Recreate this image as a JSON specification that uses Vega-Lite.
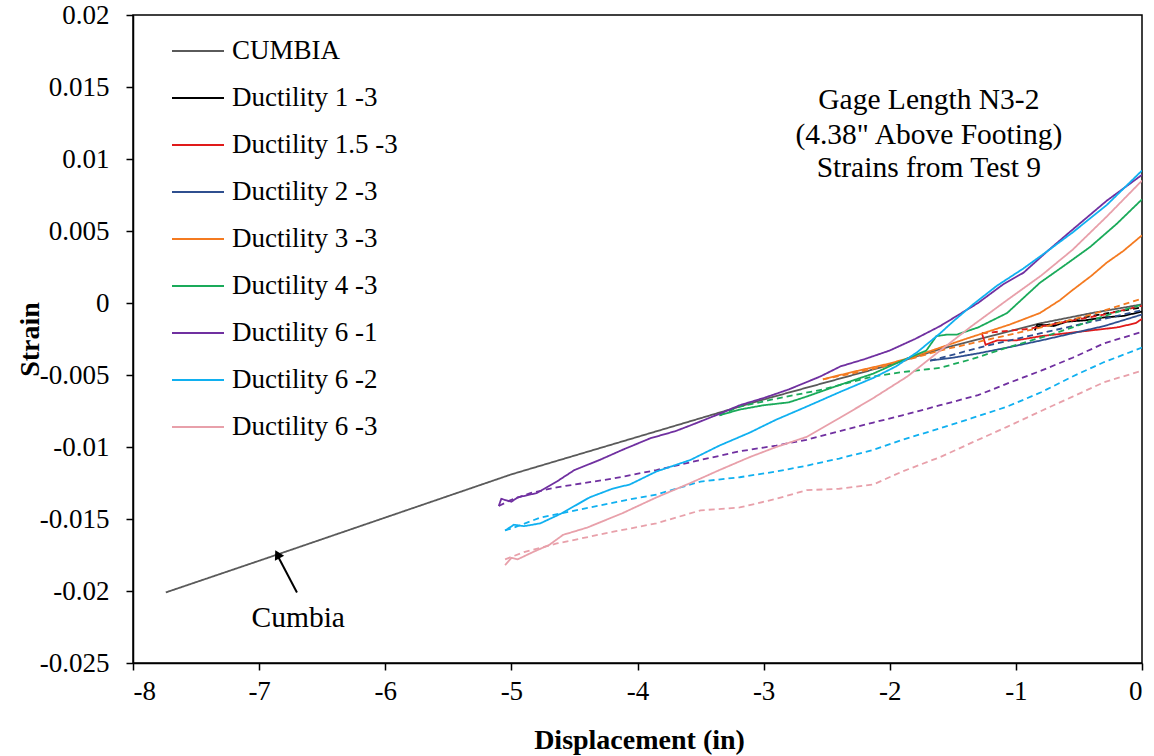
{
  "$schema": "https://vega.github.io/schema/vega-lite/v6.json",
  "width": 1009,
  "height": 648,
  "autosize": {"type": "none"},
  "padding": {"left": 133, "top": 15, "right": 12, "bottom": 93},
  "background": "white",
  "config": {
    "font": "Liberation Serif, serif",
    "view": {"stroke": "black", "strokeWidth": 1.5},
    "axis": {"grid": false, "domainColor": "black", "domainWidth": 1.5, "tickColor": "black", "tickWidth": 1.5, "tickSize": 7, "labelFont": "Liberation Serif, serif", "labelFontSize": 27, "labelColor": "black", "titleFont": "Liberation Serif, serif", "titleFontSize": 28, "titleFontWeight": "bold", "titleColor": "black"}
  },
  "datasets": {
    "series": [
      {"s":"CUMBIA","p":"load","x":-7.74,"y":-0.0201},{"s":"CUMBIA","p":"load","x":-7,"y":-0.0179},{"s":"CUMBIA","p":"load","x":-6.5,"y":-0.0164},{"s":"CUMBIA","p":"load","x":-6,"y":-0.0149},{"s":"CUMBIA","p":"load","x":-5.5,"y":-0.0134},{"s":"CUMBIA","p":"load","x":-5,"y":-0.0119},{"s":"CUMBIA","p":"load","x":-4.5,"y":-0.0106},{"s":"CUMBIA","p":"load","x":-4,"y":-0.0093},{"s":"CUMBIA","p":"load","x":-3.5,"y":-0.008},{"s":"CUMBIA","p":"load","x":-3,"y":-0.0067},{"s":"CUMBIA","p":"load","x":-2.5,"y":-0.0055},{"s":"CUMBIA","p":"load","x":-2,"y":-0.0043},{"s":"CUMBIA","p":"load","x":-1.6,"y":-0.0032},{"s":"CUMBIA","p":"load","x":-1.2,"y":-0.0023},{"s":"CUMBIA","p":"load","x":-0.8,"y":-0.0014},{"s":"CUMBIA","p":"load","x":-0.4,"y":-0.0007},{"s":"CUMBIA","p":"load","x":0,"y":-0.0001},

      {"s":"Ductility 1 -3","p":"load","x":-0.85,"y":-0.0019},{"s":"Ductility 1 -3","p":"load","x":-0.83,"y":-0.0015},{"s":"Ductility 1 -3","p":"load","x":-0.7,"y":-0.0016},{"s":"Ductility 1 -3","p":"load","x":-0.6,"y":-0.0013},{"s":"Ductility 1 -3","p":"load","x":-0.45,"y":-0.0012},{"s":"Ductility 1 -3","p":"load","x":-0.3,"y":-0.001},{"s":"Ductility 1 -3","p":"load","x":-0.15,"y":-0.0009},{"s":"Ductility 1 -3","p":"load","x":0,"y":-0.0006},
      {"s":"Ductility 1 -3","p":"unload","x":-0.85,"y":-0.0017},{"s":"Ductility 1 -3","p":"unload","x":-0.4,"y":-0.0009},{"s":"Ductility 1 -3","p":"unload","x":0,"y":-0.0003},

      {"s":"Ductility 1.5 -3","p":"load","x":-1.27,"y":-0.0021},{"s":"Ductility 1.5 -3","p":"load","x":-1.24,"y":-0.0029},{"s":"Ductility 1.5 -3","p":"load","x":-1.15,"y":-0.0026},{"s":"Ductility 1.5 -3","p":"load","x":-1.0,"y":-0.0026},{"s":"Ductility 1.5 -3","p":"load","x":-0.8,"y":-0.0023},{"s":"Ductility 1.5 -3","p":"load","x":-0.6,"y":-0.0021},{"s":"Ductility 1.5 -3","p":"load","x":-0.4,"y":-0.0019},{"s":"Ductility 1.5 -3","p":"load","x":-0.2,"y":-0.0017},{"s":"Ductility 1.5 -3","p":"load","x":-0.05,"y":-0.0014},{"s":"Ductility 1.5 -3","p":"load","x":0,"y":-0.0011},
      {"s":"Ductility 1.5 -3","p":"unload","x":-1.27,"y":-0.0021},{"s":"Ductility 1.5 -3","p":"unload","x":-0.9,"y":-0.0018},{"s":"Ductility 1.5 -3","p":"unload","x":-0.6,"y":-0.0013},{"s":"Ductility 1.5 -3","p":"unload","x":-0.3,"y":-0.0008},{"s":"Ductility 1.5 -3","p":"unload","x":0,"y":-0.0002},

      {"s":"Ductility 2 -3","p":"load","x":-1.68,"y":-0.004},{"s":"Ductility 2 -3","p":"load","x":-1.5,"y":-0.0038},{"s":"Ductility 2 -3","p":"load","x":-1.3,"y":-0.0035},{"s":"Ductility 2 -3","p":"load","x":-1.07,"y":-0.0031},{"s":"Ductility 2 -3","p":"load","x":-0.8,"y":-0.0026},{"s":"Ductility 2 -3","p":"load","x":-0.55,"y":-0.0021},{"s":"Ductility 2 -3","p":"load","x":-0.3,"y":-0.0016},{"s":"Ductility 2 -3","p":"load","x":0,"y":-0.0008},
      {"s":"Ductility 2 -3","p":"unload","x":-1.68,"y":-0.004},{"s":"Ductility 2 -3","p":"unload","x":-1.2,"y":-0.0029},{"s":"Ductility 2 -3","p":"unload","x":-0.8,"y":-0.0021},{"s":"Ductility 2 -3","p":"unload","x":-0.4,"y":-0.0013},{"s":"Ductility 2 -3","p":"unload","x":0,"y":-0.0005},

      {"s":"Ductility 3 -3","p":"load","x":-2.53,"y":-0.0053},{"s":"Ductility 3 -3","p":"load","x":-2.3,"y":-0.0048},{"s":"Ductility 3 -3","p":"load","x":-2.0,"y":-0.0042},{"s":"Ductility 3 -3","p":"load","x":-1.8,"y":-0.0037},{"s":"Ductility 3 -3","p":"load","x":-1.6,"y":-0.0031},{"s":"Ductility 3 -3","p":"load","x":-1.4,"y":-0.0025},{"s":"Ductility 3 -3","p":"load","x":-1.26,"y":-0.0021},{"s":"Ductility 3 -3","p":"load","x":-1.05,"y":-0.0015},{"s":"Ductility 3 -3","p":"load","x":-0.81,"y":-0.0007},{"s":"Ductility 3 -3","p":"load","x":-0.65,"y":0.0002},{"s":"Ductility 3 -3","p":"load","x":-0.55,"y":0.0009},{"s":"Ductility 3 -3","p":"load","x":-0.4,"y":0.0019},{"s":"Ductility 3 -3","p":"load","x":-0.28,"y":0.0028},{"s":"Ductility 3 -3","p":"load","x":-0.15,"y":0.0036},{"s":"Ductility 3 -3","p":"load","x":0,"y":0.0047},
      {"s":"Ductility 3 -3","p":"unload","x":-2.53,"y":-0.0053},{"s":"Ductility 3 -3","p":"unload","x":-2.3,"y":-0.0049},{"s":"Ductility 3 -3","p":"unload","x":-2.0,"y":-0.0043},{"s":"Ductility 3 -3","p":"unload","x":-1.6,"y":-0.0033},{"s":"Ductility 3 -3","p":"unload","x":-1.2,"y":-0.0025},{"s":"Ductility 3 -3","p":"unload","x":-0.8,"y":-0.0017},{"s":"Ductility 3 -3","p":"unload","x":-0.4,"y":-0.0008},{"s":"Ductility 3 -3","p":"unload","x":0,"y":0.0003},

      {"s":"Ductility 4 -3","p":"load","x":-3.35,"y":-0.0078},{"s":"Ductility 4 -3","p":"load","x":-3.19,"y":-0.0074},{"s":"Ductility 4 -3","p":"load","x":-3.0,"y":-0.0071},{"s":"Ductility 4 -3","p":"load","x":-2.8,"y":-0.0069},{"s":"Ductility 4 -3","p":"load","x":-2.66,"y":-0.0065},{"s":"Ductility 4 -3","p":"load","x":-2.4,"y":-0.0057},{"s":"Ductility 4 -3","p":"load","x":-2.13,"y":-0.0049},{"s":"Ductility 4 -3","p":"load","x":-1.9,"y":-0.004},{"s":"Ductility 4 -3","p":"load","x":-1.71,"y":-0.0033},{"s":"Ductility 4 -3","p":"load","x":-1.63,"y":-0.0023},{"s":"Ductility 4 -3","p":"load","x":-1.55,"y":-0.0022},{"s":"Ductility 4 -3","p":"load","x":-1.47,"y":-0.0022},{"s":"Ductility 4 -3","p":"load","x":-1.3,"y":-0.0017},{"s":"Ductility 4 -3","p":"load","x":-1.07,"y":-0.0007},{"s":"Ductility 4 -3","p":"load","x":-0.81,"y":0.0014},{"s":"Ductility 4 -3","p":"load","x":-0.6,"y":0.0027},{"s":"Ductility 4 -3","p":"load","x":-0.41,"y":0.0039},{"s":"Ductility 4 -3","p":"load","x":-0.2,"y":0.0055},{"s":"Ductility 4 -3","p":"load","x":0,"y":0.0072},
      {"s":"Ductility 4 -3","p":"unload","x":-3.35,"y":-0.0078},{"s":"Ductility 4 -3","p":"unload","x":-3.19,"y":-0.0072},{"s":"Ductility 4 -3","p":"unload","x":-2.93,"y":-0.0067},{"s":"Ductility 4 -3","p":"unload","x":-2.53,"y":-0.006},{"s":"Ductility 4 -3","p":"unload","x":-2.13,"y":-0.0051},{"s":"Ductility 4 -3","p":"unload","x":-1.9,"y":-0.0048},{"s":"Ductility 4 -3","p":"unload","x":-1.6,"y":-0.0045},{"s":"Ductility 4 -3","p":"unload","x":-1.35,"y":-0.0039},{"s":"Ductility 4 -3","p":"unload","x":-1.07,"y":-0.0031},{"s":"Ductility 4 -3","p":"unload","x":-0.8,"y":-0.0024},{"s":"Ductility 4 -3","p":"unload","x":-0.55,"y":-0.0017},{"s":"Ductility 4 -3","p":"unload","x":-0.3,"y":-0.0009},{"s":"Ductility 4 -3","p":"unload","x":0,"y":-0.0001},

      {"s":"Ductility 6 -1","p":"load","x":-5.1,"y":-0.0141},{"s":"Ductility 6 -1","p":"load","x":-5.08,"y":-0.0136},{"s":"Ductility 6 -1","p":"load","x":-5.0,"y":-0.0138},{"s":"Ductility 6 -1","p":"load","x":-4.95,"y":-0.0135},{"s":"Ductility 6 -1","p":"load","x":-4.8,"y":-0.0132},{"s":"Ductility 6 -1","p":"load","x":-4.64,"y":-0.0124},{"s":"Ductility 6 -1","p":"load","x":-4.5,"y":-0.0116},{"s":"Ductility 6 -1","p":"load","x":-4.3,"y":-0.0109},{"s":"Ductility 6 -1","p":"load","x":-4.12,"y":-0.0102},{"s":"Ductility 6 -1","p":"load","x":-3.9,"y":-0.0094},{"s":"Ductility 6 -1","p":"load","x":-3.7,"y":-0.0089},{"s":"Ductility 6 -1","p":"load","x":-3.58,"y":-0.0085},{"s":"Ductility 6 -1","p":"load","x":-3.35,"y":-0.0077},{"s":"Ductility 6 -1","p":"load","x":-3.19,"y":-0.0071},{"s":"Ductility 6 -1","p":"load","x":-3.0,"y":-0.0066},{"s":"Ductility 6 -1","p":"load","x":-2.8,"y":-0.006},{"s":"Ductility 6 -1","p":"load","x":-2.55,"y":-0.0051},{"s":"Ductility 6 -1","p":"load","x":-2.39,"y":-0.0044},{"s":"Ductility 6 -1","p":"load","x":-2.2,"y":-0.0039},{"s":"Ductility 6 -1","p":"load","x":-2.0,"y":-0.0033},{"s":"Ductility 6 -1","p":"load","x":-1.8,"y":-0.0025},{"s":"Ductility 6 -1","p":"load","x":-1.6,"y":-0.0016},{"s":"Ductility 6 -1","p":"load","x":-1.45,"y":-0.0008},{"s":"Ductility 6 -1","p":"load","x":-1.3,"y":0.0},{"s":"Ductility 6 -1","p":"load","x":-1.1,"y":0.0013},{"s":"Ductility 6 -1","p":"load","x":-0.94,"y":0.0021},{"s":"Ductility 6 -1","p":"load","x":-0.75,"y":0.0036},{"s":"Ductility 6 -1","p":"load","x":-0.55,"y":0.0051},{"s":"Ductility 6 -1","p":"load","x":-0.28,"y":0.0071},{"s":"Ductility 6 -1","p":"load","x":0,"y":0.0089},
      {"s":"Ductility 6 -1","p":"unload","x":-5.1,"y":-0.0141},{"s":"Ductility 6 -1","p":"unload","x":-5.01,"y":-0.0137},{"s":"Ductility 6 -1","p":"unload","x":-4.85,"y":-0.0132},{"s":"Ductility 6 -1","p":"unload","x":-4.64,"y":-0.0128},{"s":"Ductility 6 -1","p":"unload","x":-4.2,"y":-0.0122},{"s":"Ductility 6 -1","p":"unload","x":-3.85,"y":-0.0116},{"s":"Ductility 6 -1","p":"unload","x":-3.5,"y":-0.0109},{"s":"Ductility 6 -1","p":"unload","x":-3.19,"y":-0.0103},{"s":"Ductility 6 -1","p":"unload","x":-2.9,"y":-0.0099},{"s":"Ductility 6 -1","p":"unload","x":-2.66,"y":-0.0095},{"s":"Ductility 6 -1","p":"unload","x":-2.4,"y":-0.0089},{"s":"Ductility 6 -1","p":"unload","x":-2.13,"y":-0.0083},{"s":"Ductility 6 -1","p":"unload","x":-1.9,"y":-0.0078},{"s":"Ductility 6 -1","p":"unload","x":-1.6,"y":-0.0071},{"s":"Ductility 6 -1","p":"unload","x":-1.3,"y":-0.0064},{"s":"Ductility 6 -1","p":"unload","x":-1.07,"y":-0.0056},{"s":"Ductility 6 -1","p":"unload","x":-0.8,"y":-0.0047},{"s":"Ductility 6 -1","p":"unload","x":-0.55,"y":-0.0038},{"s":"Ductility 6 -1","p":"unload","x":-0.3,"y":-0.0028},{"s":"Ductility 6 -1","p":"unload","x":0,"y":-0.002},

      {"s":"Ductility 6 -2","p":"load","x":-5.05,"y":-0.0158},{"s":"Ductility 6 -2","p":"load","x":-4.98,"y":-0.0154},{"s":"Ductility 6 -2","p":"load","x":-4.9,"y":-0.0155},{"s":"Ductility 6 -2","p":"load","x":-4.77,"y":-0.0153},{"s":"Ductility 6 -2","p":"load","x":-4.6,"y":-0.0146},{"s":"Ductility 6 -2","p":"load","x":-4.38,"y":-0.0135},{"s":"Ductility 6 -2","p":"load","x":-4.2,"y":-0.0129},{"s":"Ductility 6 -2","p":"load","x":-4.06,"y":-0.0126},{"s":"Ductility 6 -2","p":"load","x":-3.85,"y":-0.0117},{"s":"Ductility 6 -2","p":"load","x":-3.58,"y":-0.0109},{"s":"Ductility 6 -2","p":"load","x":-3.35,"y":-0.0099},{"s":"Ductility 6 -2","p":"load","x":-3.11,"y":-0.009},{"s":"Ductility 6 -2","p":"load","x":-2.9,"y":-0.0081},{"s":"Ductility 6 -2","p":"load","x":-2.66,"y":-0.0072},{"s":"Ductility 6 -2","p":"load","x":-2.4,"y":-0.0062},{"s":"Ductility 6 -2","p":"load","x":-2.13,"y":-0.0052},{"s":"Ductility 6 -2","p":"load","x":-1.95,"y":-0.0044},{"s":"Ductility 6 -2","p":"load","x":-1.78,"y":-0.0034},{"s":"Ductility 6 -2","p":"load","x":-1.6,"y":-0.0021},{"s":"Ductility 6 -2","p":"load","x":-1.5,"y":-0.0013},{"s":"Ductility 6 -2","p":"load","x":-1.34,"y":-0.0001},{"s":"Ductility 6 -2","p":"load","x":-1.15,"y":0.0012},{"s":"Ductility 6 -2","p":"load","x":-0.94,"y":0.0024},{"s":"Ductility 6 -2","p":"load","x":-0.75,"y":0.0036},{"s":"Ductility 6 -2","p":"load","x":-0.55,"y":0.0049},{"s":"Ductility 6 -2","p":"load","x":-0.28,"y":0.0068},{"s":"Ductility 6 -2","p":"load","x":0,"y":0.0092},
      {"s":"Ductility 6 -2","p":"unload","x":-5.05,"y":-0.0158},{"s":"Ductility 6 -2","p":"unload","x":-4.95,"y":-0.0155},{"s":"Ductility 6 -2","p":"unload","x":-4.77,"y":-0.0149},{"s":"Ductility 6 -2","p":"unload","x":-4.38,"y":-0.0142},{"s":"Ductility 6 -2","p":"unload","x":-4.1,"y":-0.0137},{"s":"Ductility 6 -2","p":"unload","x":-3.85,"y":-0.0133},{"s":"Ductility 6 -2","p":"unload","x":-3.5,"y":-0.0124},{"s":"Ductility 6 -2","p":"unload","x":-3.19,"y":-0.0121},{"s":"Ductility 6 -2","p":"unload","x":-2.9,"y":-0.0117},{"s":"Ductility 6 -2","p":"unload","x":-2.66,"y":-0.0113},{"s":"Ductility 6 -2","p":"unload","x":-2.4,"y":-0.0108},{"s":"Ductility 6 -2","p":"unload","x":-2.13,"y":-0.0102},{"s":"Ductility 6 -2","p":"unload","x":-1.9,"y":-0.0095},{"s":"Ductility 6 -2","p":"unload","x":-1.6,"y":-0.0087},{"s":"Ductility 6 -2","p":"unload","x":-1.35,"y":-0.008},{"s":"Ductility 6 -2","p":"unload","x":-1.07,"y":-0.0072},{"s":"Ductility 6 -2","p":"unload","x":-0.8,"y":-0.0062},{"s":"Ductility 6 -2","p":"unload","x":-0.55,"y":-0.0051},{"s":"Ductility 6 -2","p":"unload","x":-0.3,"y":-0.0041},{"s":"Ductility 6 -2","p":"unload","x":0,"y":-0.0031},

      {"s":"Ductility 6 -3","p":"load","x":-5.05,"y":-0.0182},{"s":"Ductility 6 -3","p":"load","x":-5.0,"y":-0.0177},{"s":"Ductility 6 -3","p":"load","x":-4.95,"y":-0.0178},{"s":"Ductility 6 -3","p":"load","x":-4.83,"y":-0.0173},{"s":"Ductility 6 -3","p":"load","x":-4.7,"y":-0.0168},{"s":"Ductility 6 -3","p":"load","x":-4.59,"y":-0.0161},{"s":"Ductility 6 -3","p":"load","x":-4.4,"y":-0.0156},{"s":"Ductility 6 -3","p":"load","x":-4.12,"y":-0.0146},{"s":"Ductility 6 -3","p":"load","x":-3.85,"y":-0.0135},{"s":"Ductility 6 -3","p":"load","x":-3.58,"y":-0.0125},{"s":"Ductility 6 -3","p":"load","x":-3.35,"y":-0.0116},{"s":"Ductility 6 -3","p":"load","x":-3.11,"y":-0.0107},{"s":"Ductility 6 -3","p":"load","x":-2.9,"y":-0.01},{"s":"Ductility 6 -3","p":"load","x":-2.66,"y":-0.0093},{"s":"Ductility 6 -3","p":"load","x":-2.4,"y":-0.008},{"s":"Ductility 6 -3","p":"load","x":-2.13,"y":-0.0066},{"s":"Ductility 6 -3","p":"load","x":-1.86,"y":-0.0051},{"s":"Ductility 6 -3","p":"load","x":-1.6,"y":-0.0033},{"s":"Ductility 6 -3","p":"load","x":-1.35,"y":-0.0016},{"s":"Ductility 6 -3","p":"load","x":-1.07,"y":0.0002},{"s":"Ductility 6 -3","p":"load","x":-0.8,"y":0.0019},{"s":"Ductility 6 -3","p":"load","x":-0.55,"y":0.0037},{"s":"Ductility 6 -3","p":"load","x":-0.28,"y":0.006},{"s":"Ductility 6 -3","p":"load","x":0,"y":0.0085},
      {"s":"Ductility 6 -3","p":"unload","x":-5.05,"y":-0.0178},{"s":"Ductility 6 -3","p":"unload","x":-4.9,"y":-0.0173},{"s":"Ductility 6 -3","p":"unload","x":-4.64,"y":-0.0167},{"s":"Ductility 6 -3","p":"unload","x":-4.2,"y":-0.0159},{"s":"Ductility 6 -3","p":"unload","x":-3.85,"y":-0.0153},{"s":"Ductility 6 -3","p":"unload","x":-3.5,"y":-0.0144},{"s":"Ductility 6 -3","p":"unload","x":-3.19,"y":-0.0142},{"s":"Ductility 6 -3","p":"unload","x":-2.9,"y":-0.0136},{"s":"Ductility 6 -3","p":"unload","x":-2.66,"y":-0.013},{"s":"Ductility 6 -3","p":"unload","x":-2.4,"y":-0.0129},{"s":"Ductility 6 -3","p":"unload","x":-2.13,"y":-0.0126},{"s":"Ductility 6 -3","p":"unload","x":-1.9,"y":-0.0117},{"s":"Ductility 6 -3","p":"unload","x":-1.6,"y":-0.0107},{"s":"Ductility 6 -3","p":"unload","x":-1.35,"y":-0.0097},{"s":"Ductility 6 -3","p":"unload","x":-1.07,"y":-0.0086},{"s":"Ductility 6 -3","p":"unload","x":-0.8,"y":-0.0075},{"s":"Ductility 6 -3","p":"unload","x":-0.55,"y":-0.0065},{"s":"Ductility 6 -3","p":"unload","x":-0.3,"y":-0.0055},{"s":"Ductility 6 -3","p":"unload","x":0,"y":-0.0047}
    ],
    "notes": [
      {"t":"Gage Length  N3-2","x":-1.69,"y":0.0141},
      {"t":"(4.38\" Above Footing)","x":-1.69,"y":0.01167},
      {"t":"Strains from Test 9","x":-1.69,"y":0.00938},
      {"t":"Cumbia","x":-6.69,"y":-0.02188}
    ],
    "arrow": [
      {"x":-6.70,"y":-0.0201},
      {"x":-6.85,"y":-0.0176}
    ],
    "arrowhead": [
      {"x":-6.855,"y":-0.01745}
    ]
  },
  "layer": [
    {
      "mark": {"type": "rule", "stroke": "black", "strokeWidth": 1.5, "strokeDash": [7, 5]},
      "encoding": {"y": {"datum": 0, "type": "quantitative"}}
    },
    {
      "data": {"name": "series"},
      "mark": {"type": "line", "strokeWidth": 1.8, "clip": true},
      "encoding": {
        "x": {"field": "x", "type": "quantitative", "scale": {"domain": [-8, 0], "nice": false}, "axis": {"title": "Displacement (in)", "values": [-8,-7,-6,-5,-4,-3,-2,-1,0], "labelExpr": "replace(format(datum.value, '~g'), '\u2212', '-')", "labelPadding": 8, "titleX": 506, "titleY": 77, "titleBaseline": "middle", "titleAlign": "center"}},
        "y": {"field": "y", "type": "quantitative", "scale": {"domain": [-0.025, 0.02], "nice": false, "zero": false}, "axis": {"title": "Strain", "values": [-0.025,-0.02,-0.015,-0.01,-0.005,0,0.005,0.01,0.015,0.02], "labelExpr": "replace(format(datum.value, '.3~f'), '\u2212', '-')", "labelPadding": 17, "titleX": -103, "titleY": 324, "titleBaseline": "middle", "titleAlign": "center", "titleAngle": -90}},
        "color": {
          "field": "s", "type": "nominal",
          "scale": {
            "domain": ["CUMBIA","Ductility 1 -3","Ductility 1.5 -3","Ductility 2 -3","Ductility 3 -3","Ductility 4 -3","Ductility 6 -1","Ductility 6 -2","Ductility 6 -3"],
            "range": ["#5a5a5a","#000000","#e01a1a","#2f4f8f","#f47a20","#1aaa5a","#7030a0","#10b0f0","#e8a0aa"]
          },
          "legend": {
            "title": null, "orient": "none", "legendX": 38, "legendY": 9,
            "symbolType": "stroke", "symbolSize": 2704, "symbolStrokeWidth": 2,
            "labelFont": "Liberation Serif, serif", "labelFontSize": 27, "labelColor": "black", "labelOffset": 7,
            "rowPadding": 7, "labelLimit": 400
          }
        },
        "strokeDash": {"field": "p", "type": "nominal", "scale": {"domain": ["load","unload"], "range": [[1,0],[6,4]]}, "legend": null}
      }
    },
    {
      "data": {"name": "notes"},
      "mark": {"type": "text", "font": "Liberation Serif, serif", "fontSize": 29.5, "align": "center", "baseline": "middle", "color": "black"},
      "encoding": {
        "x": {"field": "x", "type": "quantitative"},
        "y": {"field": "y", "type": "quantitative"},
        "text": {"field": "t"}
      }
    },
    {
      "data": {"name": "arrow"},
      "mark": {"type": "line", "stroke": "black", "strokeWidth": 2},
      "encoding": {
        "x": {"field": "x", "type": "quantitative"},
        "y": {"field": "y", "type": "quantitative"}
      }
    },
    {
      "data": {"name": "arrowhead"},
      "mark": {"type": "point", "shape": "triangle-up", "filled": true, "color": "black", "size": 110, "angle": -28, "opacity": 1},
      "encoding": {
        "x": {"field": "x", "type": "quantitative"},
        "y": {"field": "y", "type": "quantitative"}
      }
    }
  ]
}
